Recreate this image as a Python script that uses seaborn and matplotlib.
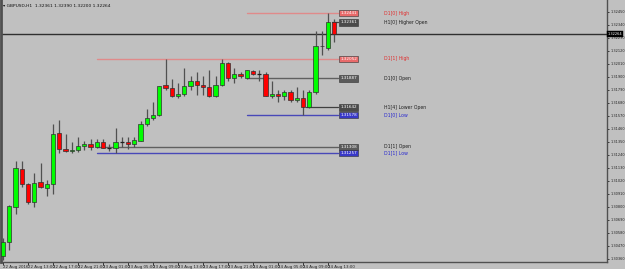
import matplotlib
matplotlib.use("Agg")
import matplotlib.pyplot as plt
import seaborn as sns
import numpy as np
import pandas as pd

# ---- data (GBPUSD H1, 22 Aug 2016 09:00 .. 24 Aug 2016 14:00) ----
opens = [1.30385, 1.30504, 1.30804, 1.31121, 1.30994, 1.30842, 1.31011, 1.30961, 1.30994, 1.31422,
         1.31291, 1.31270, 1.31286, 1.31320, 1.31337, 1.31308, 1.31354, 1.31299, 1.31295, 1.31346,
         1.31350, 1.31333, 1.31362, 1.31498, 1.31557, 1.31578, 1.31832, 1.31807, 1.31735, 1.31760,
         1.31824, 1.31870, 1.31836, 1.31819, 1.31735, 1.31828, 1.32014, 1.31887, 1.31929, 1.31887,
         1.31950, 1.31925, 1.31929, 1.31743, 1.31760, 1.31743, 1.31769, 1.31705, 1.31718, 1.31642,
         1.31769, 1.32162, 1.32141, 1.32361]
highs = [1.30538, 1.30817, 1.31185, 1.31185, 1.31003, 1.31088, 1.31172, 1.31028, 1.31502, 1.31536,
         1.31418, 1.31346, 1.31388, 1.31362, 1.31375, 1.31379, 1.31371, 1.31329, 1.31472, 1.31388,
         1.31388, 1.31388, 1.31528, 1.31633, 1.31688, 1.31824, 1.32048, 1.31879, 1.31845, 1.31976,
         1.31904, 1.31942, 1.31908, 1.31959, 1.31912, 1.32052, 1.32027, 1.31972, 1.31938, 1.31959,
         1.31963, 1.31959, 1.31938, 1.31862, 1.31790, 1.31790, 1.31790, 1.31811, 1.31786, 1.31790,
         1.32293, 1.32293, 1.32441, 1.32390]
lows = [1.30352, 1.30436, 1.30741, 1.30969, 1.30825, 1.30804, 1.30961, 1.30893, 1.30910, 1.31257,
        1.31261, 1.31257, 1.31261, 1.31282, 1.31282, 1.31295, 1.31295, 1.31274, 1.31257, 1.31308,
        1.31291, 1.31308, 1.31358, 1.31481, 1.31536, 1.31570, 1.31790, 1.31731, 1.31726, 1.31739,
        1.31786, 1.31747, 1.31747, 1.31731, 1.31731, 1.31824, 1.31870, 1.31853, 1.31887, 1.31879,
        1.31917, 1.31870, 1.31739, 1.31726, 1.31684, 1.31705, 1.31692, 1.31688, 1.31578, 1.31637,
        1.31760, 1.32086, 1.32128, 1.32200]
closes = [1.30504, 1.30808, 1.31126, 1.30994, 1.30842, 1.31007, 1.30965, 1.30994, 1.31418, 1.31291,
          1.31274, 1.31282, 1.31320, 1.31337, 1.31308, 1.31354, 1.31303, 1.31299, 1.31354, 1.31348,
          1.31333, 1.31367, 1.31502, 1.31557, 1.31578, 1.31824, 1.31807, 1.31743, 1.31760, 1.31824,
          1.31870, 1.31832, 1.31811, 1.31735, 1.31828, 1.32022, 1.31891, 1.31929, 1.31904, 1.31955,
          1.31921, 1.31925, 1.31743, 1.31760, 1.31743, 1.31769, 1.31705, 1.31726, 1.31642, 1.31769,
          1.32162, 1.32166, 1.32361, 1.32264]

time_labels = ["22 Aug 2016", "22 Aug 13:00", "22 Aug 17:00", "22 Aug 21:00", "23 Aug 01:00",
               "23 Aug 05:00", "23 Aug 09:00", "23 Aug 13:00", "23 Aug 17:00", "23 Aug 21:00",
               "24 Aug 01:00", "24 Aug 05:00", "24 Aug 09:00", "24 Aug 13:00"]
time_label_bars = [0, 4, 8, 12, 16, 20, 24, 28, 32, 36, 40, 44, 48, 52]

price_ticks = [1.30360, 1.30470, 1.30580, 1.30690, 1.30800, 1.30910, 1.31020, 1.31130, 1.31240,
               1.31350, 1.31460, 1.31570, 1.31680, 1.31790, 1.31900, 1.32010, 1.32120, 1.32230,
               1.32340, 1.32450]

level_names = ["D1[0] High", "H1[0] Higher Open", "D1[1] High", "D1[0] Open",
               "H1[4] Lower Open", "D1[0] Low", "D1[1] Open", "D1[1] Low"]
level_prices = [1.32441, 1.32361, 1.32052, 1.31887, 1.31642, 1.31578, 1.31308, 1.31257]
level_start_bar = [39, 52.6, 15, 39, 48.5, 39, 15, 15]
level_kind = ["high", "hopen", "high", "open", "hopen", "low", "open", "low"]

symbol = "GBPUSD,H1"
current_price = closes[-1]

# ---- style ----
BG = "#C0C0C0"
sns.set_theme(style="ticks", rc={"axes.facecolor": BG, "figure.facecolor": BG})
plt.rcParams["font.family"] = ["DejaVu Sans"]

fig = plt.figure(figsize=(6.25, 2.69), dpi=100)
ax = fig.add_axes([1 / 625, 7 / 269, 606 / 625, 262 / 269])
ax.set_facecolor(BG)

n = len(opens)
x = np.arange(n)
df = pd.DataFrame({"x": x, "o": opens, "h": highs, "l": lows, "c": closes})

# wicks
ax.vlines(df["x"], df["l"], df["h"], color="#505050", lw=0.9, zorder=2)

# bodies
bw = 0.66
up = df[df["c"] > df["o"] + 0.00003]
dn = df[df["c"] < df["o"] - 0.00003]
dj = df[(df["c"] - df["o"]).abs() <= 0.00003]
ax.bar(up["x"], up["c"] - up["o"], bottom=up["o"], width=bw, color="#00FF00",
       edgecolor="#303030", linewidth=0.5, zorder=3)
ax.bar(dn["x"], dn["o"] - dn["c"], bottom=dn["c"], width=bw, color="#FF0000",
       edgecolor="#303030", linewidth=0.5, zorder=3)
ax.hlines(dj["o"], dj["x"] - bw / 2, dj["x"] + bw / 2, color="#202020", lw=0.9, zorder=3)

# level lines and labels
styles = {
    "high": dict(line="#E08A8A", lw=1.0, box="#E86A6A", txt="#E03030"),
    "open": dict(line="#606060", lw=1.0, box="#5A5A5A", txt="#202020"),
    "hopen": dict(line="#404040", lw=0.9, box="#4A4A4A", txt="#202020"),
    "low": dict(line="#4848B8", lw=1.0, box="#3838C8", txt="#2828D0"),
}
x_end = 53.6
for name, p, xs, kind in zip(level_names, level_prices, level_start_bar, level_kind):
    st = styles[kind]
    sns.lineplot(x=[xs, x_end], y=[p, p], color=st["line"], linewidth=st["lw"], ax=ax, zorder=1)
    ax.text(54.0, p, f"{p:.5f}", fontsize=3.0, color="white", va="center", ha="left", zorder=5,
            bbox=dict(boxstyle="square,pad=0.25", fc=st["box"], ec="#303030", lw=0.4))
    ax.text(61.0, p, name, fontsize=3.3, color=st["txt"], va="center", ha="left", zorder=5)

# current price line
ax.axhline(current_price, color="#303030", lw=1.0, zorder=1)

# axes limits
ax.set_xlim(-0.32, 96.64)
ax.set_ylim(1.303346, 1.325511)

# y axis on right
ax.yaxis.tick_right()
ax.set_yticks(price_ticks)
ax.set_yticklabels([f"{t:.5f}" for t in price_ticks])
ax.tick_params(axis="y", labelsize=2.5, length=1.5, width=0.6, pad=0.8, colors="#202020")
ax.text(1.001, current_price, f"{current_price:.5f}", transform=ax.get_yaxis_transform(),
        fontsize=2.5, color="white", va="center", ha="left", zorder=6,
        bbox=dict(boxstyle="square,pad=0.2", fc="black", ec="black", lw=0.3), clip_on=False)

# x axis
ax.set_xticks(time_label_bars)
ax.set_xticklabels(time_labels, ha="left")
ax.tick_params(axis="x", labelsize=2.9, length=2, width=0.6, pad=0.3, colors="#202020")
ax.set_xlabel("")
ax.set_ylabel("")

for side in ["top"]:
    ax.spines[side].set_visible(False)
for side in ["left", "right", "bottom"]:
    ax.spines[side].set_color("#505050")
    ax.spines[side].set_linewidth(1.0)
ax.spines["left"].set_linewidth(2.0)

# title inside the chart (MT4 style)
ax.text(0.004, 0.985,
        f"\u25BE {symbol}  {opens[-1]:.5f} {highs[-1]:.5f} {lows[-1]:.5f} {closes[-1]:.5f}",
        transform=ax.transAxes, fontsize=3.2, color="#101010", va="top", ha="left")

fig.savefig("out.png", dpi=100, facecolor=BG)
